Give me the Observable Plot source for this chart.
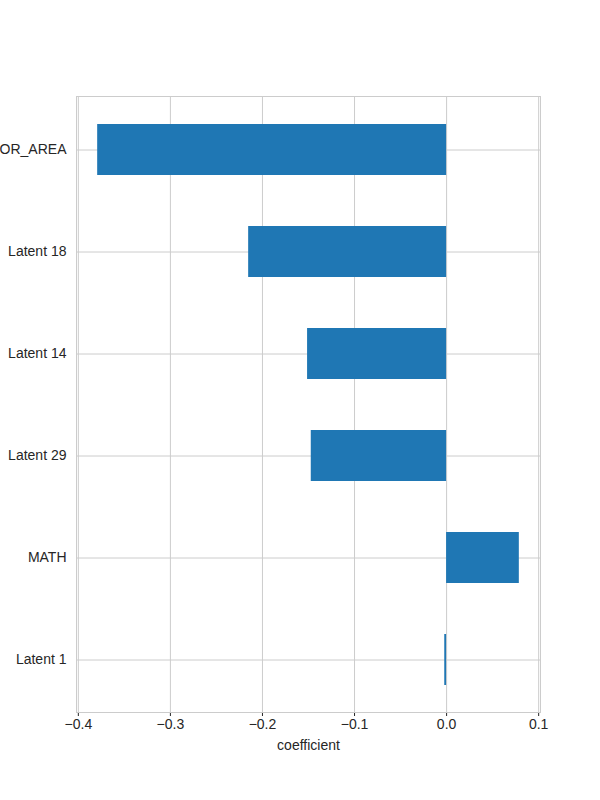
<!DOCTYPE html>
<html>
<head>
<meta charset="utf-8">
<script src="https://cdn.jsdelivr.net/npm/d3@7"></script>
<script src="https://cdn.jsdelivr.net/npm/@observablehq/plot@0.6"></script>
<style>
  body { margin: 0; background: #fff; }
  svg { overflow: hidden; }
</style>
</head>
<body>
<div id="chart"></div>
<script>
const features = ['FLOOR_AREA', 'Latent 18', 'Latent 14', 'Latent 29', 'MATH', 'Latent 1']
const coefs = [-0.379, -0.215, -0.151, -0.147, 0.079, -0.002]
const xTicks = [-0.4, -0.3, -0.2, -0.1, 0.0, 0.1]

const data = features.map((f, i) => ({feature: f, coef: coefs[i]}))

let chart = Plot.plot({
  width: 600,
  height: 800,
  marginTop: 96,
  marginBottom: 88,
  marginLeft: 76,
  marginRight: 60,
  style: {fontFamily: '"Liberation Sans", Arial, sans-serif', fontSize: '14px', color: '#262626', background: '#fff'},
  x: {
    domain: [-0.402, 0.102],
    ticks: xTicks,
    tickFormat: d => d3.format('.1f')(d).replace('-', '−'),
    label: null,
    tickSize: 4,
    tickPadding: 3,
  },
  y: {
    domain: features,
    label: null,
    paddingInner: 0.5,
    paddingOuter: 0.25,
    tickSize: 0,
    tickPadding: 10,
  },
  marks: [
    Plot.gridX(xTicks, {stroke: '#cccccc', strokeOpacity: 1}),
    Plot.gridY({stroke: '#cccccc', strokeOpacity: 1}),
    Plot.barX(data, {x: 'coef', y: 'feature', fill: '#1f77b4'}),
    Plot.frame({stroke: '#cccccc'}),
    Plot.text(['coefficient'], {frameAnchor: 'bottom', dy: 37, fontSize: 14, fill: '#262626'}),
  ],
})

d3.select('#chart').append(() => chart)
</script>
</body>
</html>
